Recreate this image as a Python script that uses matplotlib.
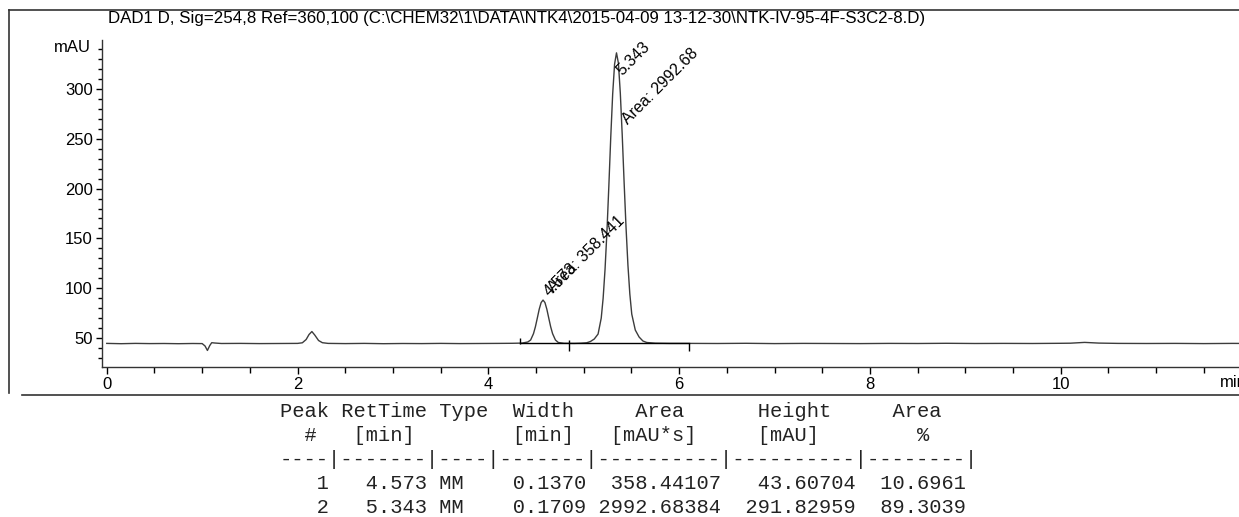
import matplotlib
matplotlib.use("Agg")
import matplotlib.pyplot as plt
from matplotlib.lines import Line2D
from matplotlib.ticker import MultipleLocator

# Chromatogram trace (time in min, signal in mAU)
trace_t = [0.00, 0.15, 0.30, 0.45, 0.60, 0.75, 0.90, 1.00, 1.03, 1.055, 1.08, 1.10, 1.13, 1.20,
           1.40, 1.60, 1.80, 2.00, 2.05, 2.09, 2.12, 2.15, 2.18, 2.22, 2.26, 2.32, 2.50, 2.70,
           2.90, 3.10, 3.30, 3.50, 3.70, 3.90, 4.10, 4.25,
           4.353, 4.413, 4.443, 4.473, 4.493, 4.513, 4.533, 4.553, 4.573,
           4.593, 4.613, 4.633, 4.653, 4.673, 4.703, 4.733, 4.793,
           4.90, 4.97, 5.03, 5.07, 5.11, 5.15, 5.183, 5.203, 5.223, 5.243, 5.263, 5.283, 5.303,
           5.323, 5.343, 5.363, 5.383, 5.403, 5.423, 5.443, 5.463, 5.483, 5.503, 5.54, 5.58,
           5.62, 5.66, 5.75, 5.90, 6.10, 6.40, 6.70, 7.00, 7.30, 7.60, 7.90, 8.20, 8.50, 8.80,
           9.10, 9.40, 9.70, 10.00, 10.10, 10.25, 10.40, 10.60, 10.90, 11.20, 11.50, 11.80, 12.00]
trace_y = [44.6, 44.3, 44.6, 44.4, 44.5, 44.3, 44.5, 44.4, 42.0, 37.5, 42.5, 45.3, 45.0, 44.5,
           44.6, 44.4, 44.5, 44.6, 45.2, 48.5, 53.5, 56.5, 53.0, 47.5, 45.3, 44.6, 44.4, 44.6,
           44.3, 44.5, 44.4, 44.6, 44.4, 44.5, 44.6, 44.7,
           44.9, 46.0, 48.0, 54.4, 61.3, 70.0, 78.9, 85.6, 88.1,
           85.6, 78.9, 70.0, 61.3, 54.4, 48.0, 45.5, 44.7,
           44.6, 44.8, 45.2, 46.5, 49.0, 54.0, 70.0, 90.0, 119.0, 157.0, 203.0, 252.0, 295.0,
           325.0, 336.3, 326.0, 296.0, 254.0, 206.0, 161.0, 123.0, 94.0, 74.0, 58.0, 51.0,
           47.0, 45.5, 44.8, 44.6, 44.6, 44.5, 44.7, 44.4, 44.6, 44.5, 44.4, 44.6, 44.5, 44.7,
           44.5, 44.6, 44.5, 44.7, 44.8, 45.6, 44.9, 44.6, 44.5, 44.6, 44.4, 44.6, 44.5]

# Integration baseline and event marks
base_t = [4.33, 6.10]
base_y = [44.8, 44.8]
mark_t = [4.33, 4.84, 6.10]
mark_lo = [44.0, 37.0, 37.0]
mark_hi = [50.0, 48.0, 45.0]

# Peak labels
peak_rt = [4.573, 5.343]
peak_top = [88.1, 336.3]
peak_area_lbl = ["Area: 358.441", "Area: 2992.68"]
rt_offset = [(5, 2), (4, -17)]
area_offset = [(8, 5), (8, -52)]

title = "DAD1 D, Sig=254,8 Ref=360,100 (C:\\CHEM32\\1\\DATA\\NTK4\\2015-04-09 13-12-30\\NTK-IV-95-4F-S3C2-8.D)"

# Report table
table_rows = [
    "Peak RetTime Type  Width     Area      Height     Area  ",
    "  #   [min]        [min]   [mAU*s]     [mAU]        %   ",
    "----|-------|----|-------|----------|----------|--------|",
    "   1   4.573 MM    0.1370  358.44107   43.60704  10.6961",
    "   2   5.343 MM    0.1709 2992.68384  291.82959  89.3039",
]

plt.rcParams["font.family"] = ["Liberation Sans", "DejaVu Sans"]

W, H = 1239, 517
fig = plt.figure(figsize=(W / 100, H / 100), dpi=100)
fig.patch.set_facecolor("white")

# axes placed in pixel terms, running off the right edge like the original
x0_px, y_bot_px, y_top_px = 102, 367, 40
xmin, xmax = -0.05, 12.65
px_per_min = 95.4
ax = fig.add_axes([x0_px / W, 1 - y_bot_px / H,
                   (xmax - xmin) * px_per_min / W, (y_bot_px - y_top_px) / H])
ax.set_xlim(xmin, xmax)
ax.set_ylim(20.9, 349.2)

ax.plot(trace_t, trace_y, color="#3c3c3c", linewidth=1.0)
ax.plot(base_t, base_y, color="black", linewidth=1.0)
ax.vlines(mark_t, mark_lo, mark_hi, color="black", linewidth=1.0)

for rt, top, area, ro, ao in zip(peak_rt, peak_top, peak_area_lbl, rt_offset, area_offset):
    ax.annotate(f"{rt:.3f}", xy=(rt, top), xytext=ro, textcoords="offset points",
                rotation=45, rotation_mode="anchor", ha="left", va="baseline",
                fontsize=11.5, color="black")
    ax.annotate(area, xy=(rt, top), xytext=ao, textcoords="offset points",
                rotation=45, rotation_mode="anchor", ha="left", va="baseline",
                fontsize=11.5, color="black")

for side in ["top", "right"]:
    ax.spines[side].set_visible(False)
for side in ["left", "bottom"]:
    ax.spines[side].set_color("#333333")
    ax.spines[side].set_linewidth(1.0)

ax.set_yticks([50, 100, 150, 200, 250, 300])
ax.yaxis.set_minor_locator(MultipleLocator(10))
ax.set_xticks([0, 2, 4, 6, 8, 10])
ax.xaxis.set_minor_locator(MultipleLocator(0.5))
ax.tick_params(axis="y", which="major", direction="out", length=4.5, width=1, labelsize=12, pad=2)
ax.tick_params(axis="y", which="minor", direction="out", length=3, width=1)
ax.tick_params(axis="x", which="major", direction="out", length=5, width=1, labelsize=12, pad=2)
ax.tick_params(axis="x", which="minor", direction="out", length=4, width=1)

ax.annotate("mAU", xy=(0, 342), xycoords=("axes fraction", "data"), xytext=(-8, 0),
            textcoords="offset points", ha="right", va="center", fontsize=12)
ax.annotate("min", xy=(11.67, 0), xycoords=("data", "axes fraction"), xytext=(0, -6),
            textcoords="offset points", ha="left", va="top", fontsize=12)

fig.text(108 / W, 1 - 18 / H, title, ha="left", va="center", fontsize=12.15)

# outer report frame
frame = dict(color="#333333", linewidth=1.2, transform=fig.transFigure)
fig.add_artist(Line2D([9 / W, 1], [1 - 10 / H, 1 - 10 / H], **frame))
fig.add_artist(Line2D([9 / W, 9 / W], [1 - 10 / H, 1 - 393 / H], **frame))
fig.add_artist(Line2D([22 / W, 1], [1 - 395 / H, 1 - 395 / H], **frame))

for i, row in enumerate(table_rows):
    fig.text(280 / W, 1 - (417 + 24 * i) / H, row, ha="left", va="baseline",
             family="Liberation Mono", fontsize=14.7, color="#222222")

fig.savefig("out.png", dpi=100)
